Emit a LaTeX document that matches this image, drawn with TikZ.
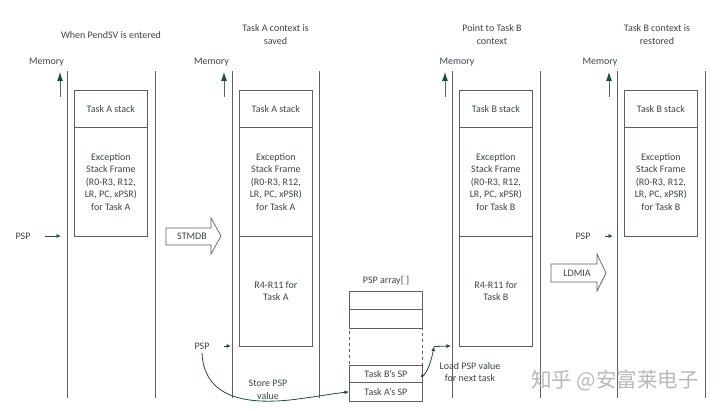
\documentclass[tikz,border=0pt]{standalone}
\usepackage{fontspec}
\setmainfont{Carlito}
\newfontfamily\cjkfont{Noto Sans CJK SC}
\usepackage{xcolor}
\usetikzlibrary{arrows.meta,positioning,calc}

\definecolor{txt}{HTML}{3B4646}
\definecolor{ln}{HTML}{5C6262}
\definecolor{tip}{HTML}{1F4D3B}

\tikzset{
  cell/.style={draw=ln,line width=0.7pt,inner sep=0pt,align=center,anchor=north west,minimum width=73pt},
  wall/.style={draw=ln,line width=0.8pt},
  memarrow/.style={draw=ln,line width=0.8pt,-{Latex[length=9pt,width=6pt,color=tip]}},
  ptr/.style={draw=tip,line width=0.8pt,-{Latex[length=4.5pt,width=4pt,color=tip]}},
  blockarrow/.style={draw=ln,line width=0.7pt,fill=white}
}

\begin{document}
\begin{tikzpicture}[x=1pt,y=-1pt,font=\fontsize{10}{12.5}\selectfont,text=txt]
  \useasboundingbox (0,0) rectangle (720,411);
  % walls of the four memory columns
  \foreach \l/\r in {67/155,232/319,452/540,617/705}{
    \draw[wall] (\l,71) -- (\l,398);
    \draw[wall] (\r,71) -- (\r,398);
  }
  % titles
  \node (t1) at (111,35) {When PendSV is entered};
  \node[align=center] (t2) at (275.5,34.5) {Task A context is\\saved};
  \node[align=center] (t3) at (492,34.5) {Point to Task B\\context};
  \node[align=center] (t4) at (657,34.5) {Task B context is\\restored};
  % memory direction
  \foreach \m/\x/\a in {m1/46.5/60,m2/211.5/224,m3/457/445,m4/600/609}{
    \node (\m) at (\x,62) {Memory};
    \draw[memarrow] (\a,97) -- (\a,72);
  }
  % panel 1
  \node[cell,minimum height=37pt] (a1) at (74,90) {Task A stack};
  \node[cell,minimum height=109pt] (f1) at (74,127)
    {Exception\\Stack Frame\\(R0-R3, R12,\\LR, PC, xPSR)\\for Task A};
  \node (psp1) at (23,236) {PSP};
  \coordinate (e1) at (61,236);
  \draw[ptr,shorten <=11pt] (psp1.east) -- (e1);
  % panel 2
  \node[cell,minimum height=37pt] (a2) at (239,90) {Task A stack};
  \node[cell,minimum height=109pt] (f2) at (239,127)
    {Exception\\Stack Frame\\(R0-R3, R12,\\LR, PC, xPSR)\\for Task A};
  \node[cell,minimum height=110pt] (r2) at (239,236) {R4-R11 for\\Task A};
  \node (psp2) at (202,346) {PSP};
  \coordinate (e2) at (231,346);
  \draw[ptr,shorten <=11pt] (psp2.east) -- (e2);
  % STMDB
  \draw[blockarrow] (166,228) -- (211,228) -- (211,218) -- (221,236) -- (211,254) -- (211,245) -- (166,245) -- cycle;
  \node (stm) at (192,236.5) {STMDB};
  % PSP array
  \node (arr) at (386,281) {PSP array[ ]};
  \node[cell,minimum height=37pt,dashed] (free) at (349,328) {};
  \node[cell,minimum height=18pt] (s1) at (349,291) {};
  \node[cell,minimum height=19pt] (s2) at (349,309) {};
  \node[cell,minimum height=17pt] (bsp) at (349,365) {Task B’s SP};
  \node[cell,minimum height=19pt] (asp) at (349,382) {Task A’s SP};
  % store
  \draw[ptr] (psp2.south) .. controls (204,400) and (250,404) .. (290,400)
    .. controls (315,397) and (330,394) .. (asp.west);
  \node[align=center] (store) at (268,390) {Store PSP\\value};
  % load
  \coordinate (ld) at (434,346.5);
  \coordinate (e3) at (451,346);
  \draw[ptr] (bsp.east) .. controls (418,380) and (428,378) .. (ld);
  \draw[ptr] (ld) -- (e3);
  \node[align=center] (load) at (470,372) {Load PSP value\\for next task};
  % panel 3
  \node[cell,minimum height=37pt] (b3) at (459,90) {Task B stack};
  \node[cell,minimum height=109pt] (f3) at (459,127)
    {Exception\\Stack Frame\\(R0-R3, R12,\\LR, PC, xPSR)\\for Task B};
  \node[cell,minimum height=110pt] (r3) at (459,236) {R4-R11 for\\Task B};
  % LDMIA
  \draw[blockarrow] (551,264) -- (597,264) -- (597,254) -- (606,273) -- (597,291) -- (597,282) -- (551,282) -- cycle;
  \node (ldm) at (577,273.5) {LDMIA};
  % panel 4
  \node[cell,minimum height=37pt] (b4) at (624,90) {Task B stack};
  \node[cell,minimum height=109pt] (f4) at (624,127)
    {Exception\\Stack Frame\\(R0-R3, R12,\\LR, PC, xPSR)\\for Task B};
  \node (psp4) at (583,236) {PSP};
  \coordinate (e4) at (613,236);
  \draw[ptr,shorten <=11pt] (psp4.east) -- (e4);
  % watermark
  \node[text=black!28,font=\cjkfont\fontsize{20.5}{20.5}\selectfont] (wm) at (615,381) {知乎 @安富莱电子};
\end{tikzpicture}
\end{document}
